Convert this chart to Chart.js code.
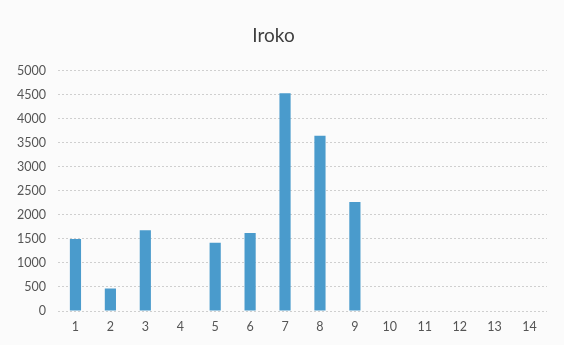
<!DOCTYPE html>
<html>
<head>
<meta charset="utf-8">
<script src="https://cdn.jsdelivr.net/npm/chart.js@4"></script>
<style>
  html, body { margin: 0; padding: 0; background: #fbfbfb; }
  #wrap { width: 564px; height: 345px; }
</style>
</head>
<body>
<div id="wrap"><canvas id="chartIroko"></canvas></div>
<script>
const categories = ["1", "2", "3", "4", "5", "6", "7", "8", "9", "10", "11", "12", "13", "14"];
const irokoValues = [1500, 470, 1680, 0, 1420, 1625, 4535, 3650, 2270, 0, 0, 0, 0, 0];
const yTicks = [0, 500, 1000, 1500, 2000, 2500, 3000, 3500, 4000, 4500, 5000];

new Chart(document.getElementById("chartIroko"), {
  type: "bar",
  data: {
    labels: categories,
    datasets: [
      {
        label: "Iroko",
        data: irokoValues,
        backgroundColor: "#4a9bcc",
        categoryPercentage: 1,
        barPercentage: 0.32,
      },
    ],
  },
  options: {
    responsive: true,
    maintainAspectRatio: false,
    animation: false,
    layout: { padding: { left: 0, right: 17, top: 0, bottom: 0 } },
    plugins: {
      legend: { display: false },
      tooltip: { enabled: false },
      title: {
        display: true,
        text: "Iroko",
        color: "#404040",
        font: { family: "Lato", size: 19, weight: "normal" },
        padding: { top: 24, bottom: 24 },
      },
    },
    scales: {
      x: {
        grid: { display: false, drawTicks: false },
        border: { display: false },
        ticks: { color: "#555", font: { family: "Lato", size: 12.5 }, padding: 8 },
        afterFit: (scale) => { scale.height = 34; },
      },
      y: {
        min: 0,
        max: 5000,
        afterBuildTicks: (scale) => { scale.ticks = yTicks.map((v) => ({ value: v })); },
        grid: { color: "#cfcfcf", drawTicks: false },
        border: { display: false, dash: [2, 2] },
        ticks: {
          color: "#555",
          font: { family: "Lato", size: 12.5 },
          padding: 12,
          callback: (v) => String(v),
        },
        afterFit: (scale) => { scale.width = 58; },
      },
    },
  },
});
</script>
</body>
</html>
